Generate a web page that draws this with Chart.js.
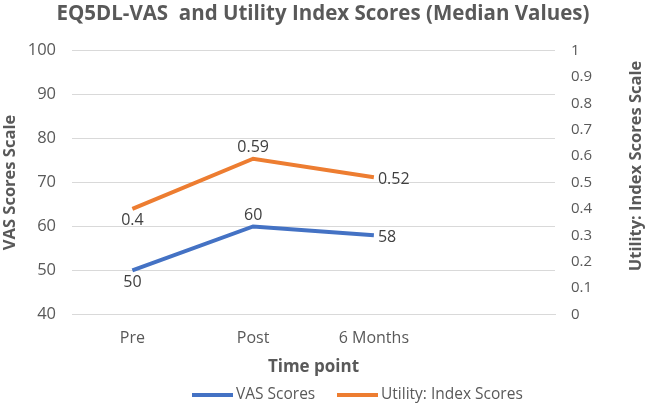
<!DOCTYPE html>
<html>
<head>
<meta charset="utf-8">
<script src="https://cdn.jsdelivr.net/npm/chart.js@4"></script>
<style>
  html, body { margin: 0; padding: 0; background: #fff; }
  #wrap { width: 646px; height: 405px; position: relative; }
</style>
</head>
<body>
<div id="wrap"><canvas id="chart"></canvas></div>
<script>
const timePoints = ['Pre', 'Post', '6 Months', ''];
const vasScores = [50, 60, 58, null];
const utilityScores = [0.4, 0.59, 0.52, null];
const vasTicks = [40, 100, 10];
const utilityTicks = [0, 1, 0.1];

// where each value label sits relative to its point
const vasLabelSide = ['below', 'above', 'right'];
const utilityLabelSide = ['below', 'above', 'right'];

const FONT = "'Open Sans', 'Noto Sans', sans-serif";
const GREY = '#595959';

const pointLabels = {
    id: 'pointLabels',
    afterDatasetsDraw(chart) {
        const ctx = chart.ctx;
        ctx.save();
        ctx.font = '16px ' + FONT;
        ctx.fillStyle = '#404040';
        chart.data.datasets.forEach((ds, di) => {
            const sides = di === 0 ? vasLabelSide : utilityLabelSide;
            chart.getDatasetMeta(di).data.forEach((pt, i) => {
                const v = ds.data[i];
                if (v === null) return;
                let x = pt.x, y = pt.y;
                if (sides[i] === 'below') { ctx.textAlign = 'center'; ctx.textBaseline = 'top'; y += 4; }
                else if (sides[i] === 'above') { ctx.textAlign = 'center'; ctx.textBaseline = 'bottom'; y -= 3; }
                else { ctx.textAlign = 'left'; ctx.textBaseline = 'middle'; x += 4; y += 2; }
                ctx.fillText(String(v), x, y);
            });
        });
        ctx.restore();
    }
};

// right axis title reads bottom-to-top like the left one
const rightTitle = {
    id: 'rightTitle',
    afterDraw(chart) {
        const ctx = chart.ctx;
        ctx.save();
        ctx.translate(636, 166);
        ctx.rotate(-Math.PI / 2);
        ctx.font = 'bold 16.5px ' + FONT;
        ctx.fillStyle = GREY;
        ctx.textAlign = 'center';
        ctx.textBaseline = 'middle';
        ctx.fillText('Utility: Index Scores Scale', 0, 0);
        ctx.restore();
    }
};

// legend drawn by hand so it sits where the original puts it
const lineLegend = {
    id: 'lineLegend',
    afterDraw(chart) {
        const ctx = chart.ctx;
        const y = 395;
        const starts = [192, 337];
        ctx.save();
        ctx.font = '15.5px ' + FONT;
        ctx.textAlign = 'left';
        ctx.textBaseline = 'middle';
        chart.data.datasets.forEach((ds, i) => {
            ctx.fillStyle = ds.borderColor;
            ctx.fillRect(starts[i], y - 2, 41, 4);
            ctx.fillStyle = GREY;
            ctx.fillText(ds.label, starts[i] + 44, y);
        });
        ctx.restore();
    }
};

new Chart(document.getElementById('chart'), {
    type: 'line',
    data: {
        labels: timePoints,
        datasets: [{
            label: 'VAS Scores',
            data: vasScores,
            borderColor: '#4472C4',
            backgroundColor: '#4472C4',
            borderWidth: 4,
            pointRadius: 0,
            yAxisID: 'y'
        }, {
            label: 'Utility: Index Scores',
            data: utilityScores,
            borderColor: '#ED7D31',
            backgroundColor: '#ED7D31',
            borderWidth: 4,
            pointRadius: 0,
            yAxisID: 'y1'
        }]
    },
    options: {
        responsive: true,
        maintainAspectRatio: false,
        animation: false,
        layout: { padding: { top: 2, bottom: 28 } },
        plugins: {
            title: {
                display: true,
                text: 'EQ5DL-VAS  and Utility Index Scores (Median Values)',
                color: GREY,
                font: { family: FONT, size: 20.5, weight: 'bold' },
                padding: { top: 0, bottom: 24 }
            },
            legend: { display: false },
            tooltip: { enabled: false }
        },
        scales: {
            x: {
                offset: true,
                grid: { display: false },
                border: { color: '#d9d9d9' },
                ticks: { color: GREY, font: { family: FONT, size: 16 }, padding: 6 },
                title: {
                    display: true,
                    text: 'Time point',
                    color: GREY,
                    font: { family: FONT, size: 17, weight: 'bold' },
                    padding: { top: 3, bottom: 0 }
                }
            },
            y: {
                position: 'left',
                min: vasTicks[0],
                max: vasTicks[1],
                ticks: { stepSize: vasTicks[2], color: GREY, font: { family: FONT, size: 16.5 }, padding: 16 },
                grid: { color: '#d9d9d9', drawTicks: false },
                border: { display: false },
                title: {
                    display: true,
                    text: 'VAS Scores Scale',
                    color: GREY,
                    font: { family: FONT, size: 16.5, weight: 'bold' },
                    padding: { top: 0, bottom: 0 }
                },
                afterFit(scale) { scale.width = 72; }
            },
            y1: {
                position: 'right',
                min: utilityTicks[0],
                max: utilityTicks[1],
                ticks: {
                    stepSize: utilityTicks[2],
                    color: GREY,
                    font: { family: FONT, size: 15 },
                    padding: 16,
                    callback: v => String(Math.round(v * 10) / 10)
                },
                grid: { display: false, drawTicks: false },
                border: { display: false },
                afterFit(scale) { scale.width = 91; }
            }
        }
    },
    plugins: [pointLabels, rightTitle, lineLegend]
});
</script>
</body>
</html>
